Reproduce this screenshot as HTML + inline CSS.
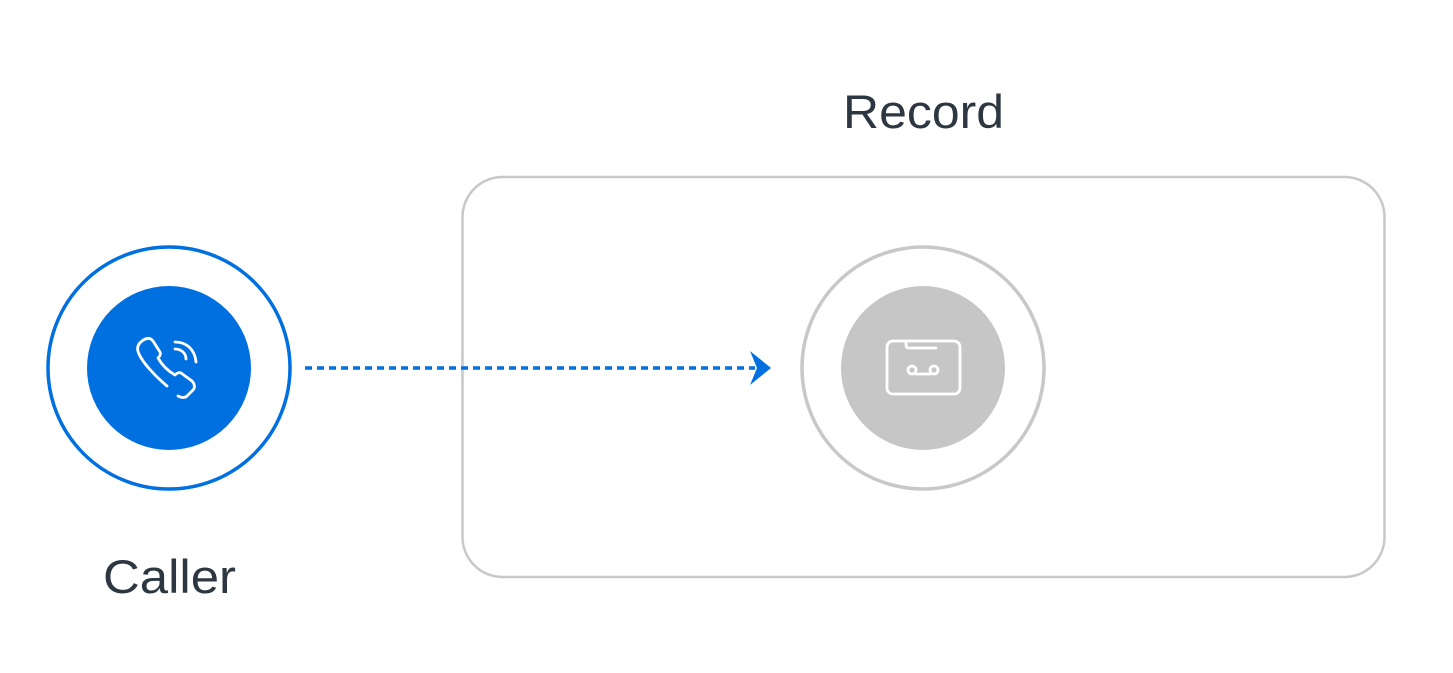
<!DOCTYPE html>
<html><head><style>
html,body{margin:0;padding:0;background:#fff;}
svg text{font-family:"Liberation Sans",sans-serif;fill:#2d3741;}
</style></head><body>
<svg width="1453" height="668" viewBox="0 0 1453 668" xmlns="http://www.w3.org/2000/svg">
<rect x="462.5" y="177" width="922" height="400" rx="40" fill="none" stroke="#c8c8c8" stroke-width="2.5"/>
<text x="843" y="128" font-size="47" textLength="161" lengthAdjust="spacingAndGlyphs">Record</text>
<text x="103" y="593" font-size="47" textLength="133" lengthAdjust="spacingAndGlyphs">Caller</text>
<circle cx="169" cy="368" r="121" fill="#fff" stroke="#0070e0" stroke-width="3.5"/>
<circle cx="169" cy="368" r="82" fill="#0070e0"/>
<g fill="none" stroke="#fff" stroke-width="2.8" stroke-linecap="round" stroke-linejoin="round">
<path d="M167 386 C155 376 143 363 139 354 C136 348 138 344 142 341 C146 338 150 337 153 341 L160 352 C161 354 160 356 158 358 C162 365 168 371 175 375 C177 373 179 372 181 373 L192 381 C195 384 195 388 193 390 L187 396 C185 398 182 398 178 396"/>
<path d="M175 349 C181 349 186 353 186 359"/>
<path d="M175 342 C187 342 195 350 196 362"/>
</g>
<line x1="305" y1="368" x2="755" y2="368" stroke="#0070e0" stroke-width="3.5" stroke-dasharray="7 5"/>
<path d="M750 351 L771 368 L750 385 L757 368 Z" fill="#0070e0"/>
<circle cx="923" cy="368" r="121" fill="#fff" stroke="#c8c8c8" stroke-width="3.5"/>
<circle cx="923" cy="368" r="82" fill="#c6c6c6"/>
<g fill="none" stroke="#fff" stroke-width="2.8" stroke-linecap="round">
<rect x="887" y="341" width="73" height="53" rx="6"/>
<path d="M906 341 V345 Q906 348 909 348 H936"/>
<circle cx="912" cy="370" r="4"/>
<circle cx="934" cy="370" r="4"/>
<line x1="916" y1="374" x2="930" y2="374"/>
</g>
</svg>
</body></html>
